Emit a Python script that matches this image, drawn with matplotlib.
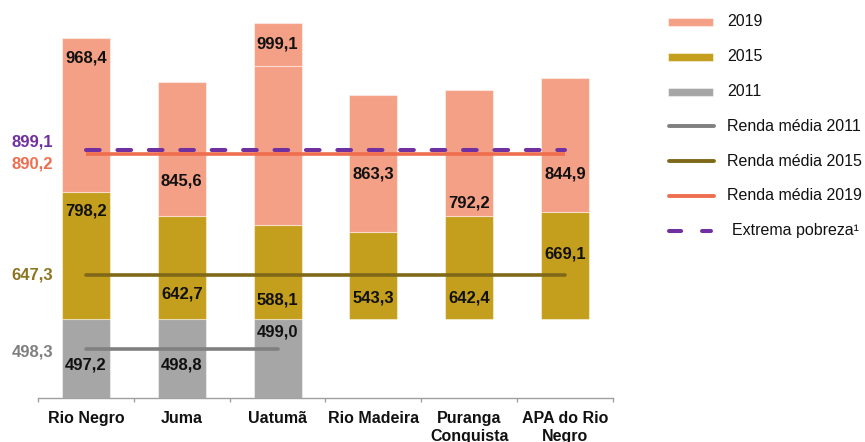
import matplotlib
matplotlib.use("Agg")
import matplotlib.pyplot as plt
from matplotlib.patches import Rectangle
from matplotlib.lines import Line2D
from matplotlib.transforms import blended_transform_factory

plt.rcParams['font.family'] = ['Liberation Sans', 'DejaVu Sans']

# ---- data -------------------------------------------------------------
categories = ["Rio Negro", "Juma", "Uatumã", "Rio Madeira",
              "Puranga\nConquista", "APA do Rio\nNegro"]
renda_2011 = [497.2, 498.8, 499.0, None, None, None]
renda_2015 = [798.2, 642.7, 588.1, 543.3, 642.4, 669.1]
renda_2019 = [968.4, 845.6, 999.1, 863.3, 792.2, 844.9]

media_2011 = 498.3
media_2015 = 647.3
media_2019 = 890.2
extrema_pobreza = 899.1

# ---- styling ------------------------------------------------------------
c_2019 = "#F4A086"
c_2015 = "#C49E1D"
c_2011 = "#A6A6A6"
c_line_2011 = "#808080"
c_line_2015 = "#7F6919"
c_line_2019 = "#EE6E4E"
c_purple = "#7030A0"
c_lbl_2015 = "#8C7421"
edge = (1, 1, 1, 0.45)

# vertical position of each value label inside its segment (0 = bottom, 1 = top)
pos_2011 = [0.42, 0.42, 0.83]
pos_2015 = [0.85, 0.24, 0.20, 0.24, 0.20, 0.61]
pos_2019 = [0.87, 0.26, None, 0.42, 0.11, 0.28]

W, H, DPI = 865, 442, 100
fig = plt.figure(figsize=(W / DPI, H / DPI), dpi=DPI)
ax = fig.add_axes([38 / W, (H - 398) / H, 575 / W, 398 / H])
ax2 = ax.twinx()

x = list(range(len(categories)))
bar_w = 0.5

# areas without 2011 data start from the 2011 average level
base_2011 = [v if v is not None else media_2011 for v in renda_2011]
bottom_2015 = base_2011
bottom_2019 = [a + b for a, b in zip(bottom_2015, renda_2015)]

x11 = [i for i, v in zip(x, renda_2011) if v is not None]
v11 = [v for v in renda_2011 if v is not None]
ax.bar(x11, v11, width=bar_w, color=c_2011, edgecolor=edge, linewidth=0.8, zorder=2)
ax.bar(x, renda_2015, bottom=bottom_2015, width=bar_w, color=c_2015,
       edgecolor=edge, linewidth=0.8, zorder=2)
bars19 = ax.bar(x, renda_2019, bottom=bottom_2019, width=bar_w, color=c_2019,
                edgecolor=edge, linewidth=0.8, zorder=2)

ax.set_xlim(-0.5, len(categories) - 0.5)
ax.set_ylim(0, 2500)
ax2.set_ylim(400, 1200)


def fmt(v):
    return f"{v:.1f}".replace(".", ",")


lbl_kw = dict(ha="center", va="center", fontsize=12, fontweight="bold",
              color="#111111", zorder=6)

for i, v, p in zip(x11, v11, pos_2011):
    ax.text(i, v * p, fmt(v), **lbl_kw)
for i, v, b, p in zip(x, renda_2015, bottom_2015, pos_2015):
    ax.text(i, b + v * p, fmt(v), **lbl_kw)
for i, v, b, p in zip(x, renda_2019, bottom_2019, pos_2019):
    if p is not None:
        ax.text(i, b + v * p, fmt(v), **lbl_kw)
    else:
        # value box sitting on top of the bar
        bar = bars19[i]
        top = b + v
        ppu = (ax.transData.transform((0, 1))[1] - ax.transData.transform((0, 0))[1])
        box_h = 43 / ppu
        ax.add_patch(Rectangle((bar.get_x(), top), bar.get_width(), box_h,
                               facecolor=c_2019, edgecolor=edge, linewidth=0.8,
                               zorder=2, clip_on=False))
        ax.text(i, top + box_h / 2, fmt(v), **lbl_kw)

# ---- average lines (secondary scale) ----------------------------------------
lw = 2.6
ax2.plot([x11[0], x11[-1]], [media_2011] * 2, color=c_line_2011, lw=lw,
         solid_capstyle="round", zorder=4)
ax2.plot([x[0], x[-1]], [media_2015] * 2, color=c_line_2015, lw=lw,
         solid_capstyle="round", zorder=4)
ax2.plot([x[0], x[-1]], [media_2019] * 2, color=c_line_2019, lw=lw,
         solid_capstyle="butt", zorder=4)
ax2.plot([x[0], x[-1]], [extrema_pobreza] * 2, color=c_purple, lw=2.9,
         linestyle=(0, (3.4, 4.4)), dash_capstyle="round", zorder=5)

# value labels at the left of the average lines
tr = blended_transform_factory(fig.transFigure, ax2.transData)
left_lbls = [(extrema_pobreza, c_purple, 5.3),
             (media_2019, c_line_2019, -7.4),
             (media_2015, c_lbl_2015, 0),
             (media_2011, c_line_2011, -2)]
for val, col, dy in left_lbls:
    ax2.annotate(fmt(val), xy=(53 / W, val), xycoords=tr, xytext=(0, dy),
                 textcoords="offset points", ha="right", va="center",
                 fontsize=12, fontweight="bold", color=col, annotation_clip=False)

# ---- axes styling --------------------------------------------------------------
for a in (ax, ax2):
    for s in ("top", "right", "left"):
        a.spines[s].set_visible(False)
ax2.spines["bottom"].set_visible(False)
ax.spines["bottom"].set_color("#A0A0A0")
ax.spines["bottom"].set_linewidth(1.0)
ax.set_yticks([])
ax2.set_yticks([])
ax.set_xticks(x)
ax.set_xticklabels(categories, fontsize=11.5, fontweight="bold", color="#111111",
                   linespacing=1.2)
ax.set_xticks([i - 0.5 for i in range(len(categories) + 1)], minor=True)
ax.tick_params(axis="x", which="major", length=0, pad=9.5)
ax.tick_params(axis="x", which="minor", length=3, width=1.0, color="#A0A0A0",
               direction="out")

# ---- legend ---------------------------------------------------------------------
def fx(px):
    return px / W


def fy(py):
    return 1 - py / H


row0, step = 22, 34.8
x0, x1, xt = 668, 713, 727
entries = [("patch", c_2019, "2019"),
           ("patch", c_2015, "2015"),
           ("patch", c_2011, "2011"),
           ("line", c_line_2011, "Renda média 2011"),
           ("line", c_line_2015, "Renda média 2015"),
           ("line", c_line_2019, "Renda média 2019"),
           ("dash", c_purple, "Extrema pobreza¹")]
for k, (kind, col, text) in enumerate(entries):
    yc = row0 + step * k
    tx = xt
    if kind == "patch":
        fig.add_artist(Rectangle((fx(x0), fy(yc + 4)), fx(x1 - x0), 8 / H,
                                 transform=fig.transFigure, facecolor=col,
                                 edgecolor=edge, linewidth=0.8))
    elif kind == "line":
        fig.add_artist(Line2D([fx(x0 + 1), fx(x1 + 1)], [fy(yc)] * 2,
                              transform=fig.transFigure, color=col, lw=2.8,
                              solid_capstyle="round"))
    else:
        fig.add_artist(Line2D([fx(x0 + 1), fx(x1 - 2)], [fy(yc)] * 2,
                              transform=fig.transFigure, color=col, lw=2.9,
                              linestyle=(0, (3.0, 5.2)), dash_capstyle="round"))
        tx = xt + 5
    fig.text(fx(tx), fy(yc), text, ha="left", va="center", fontsize=11.5,
             color="#111111")

fig.savefig("out.png", dpi=DPI)
